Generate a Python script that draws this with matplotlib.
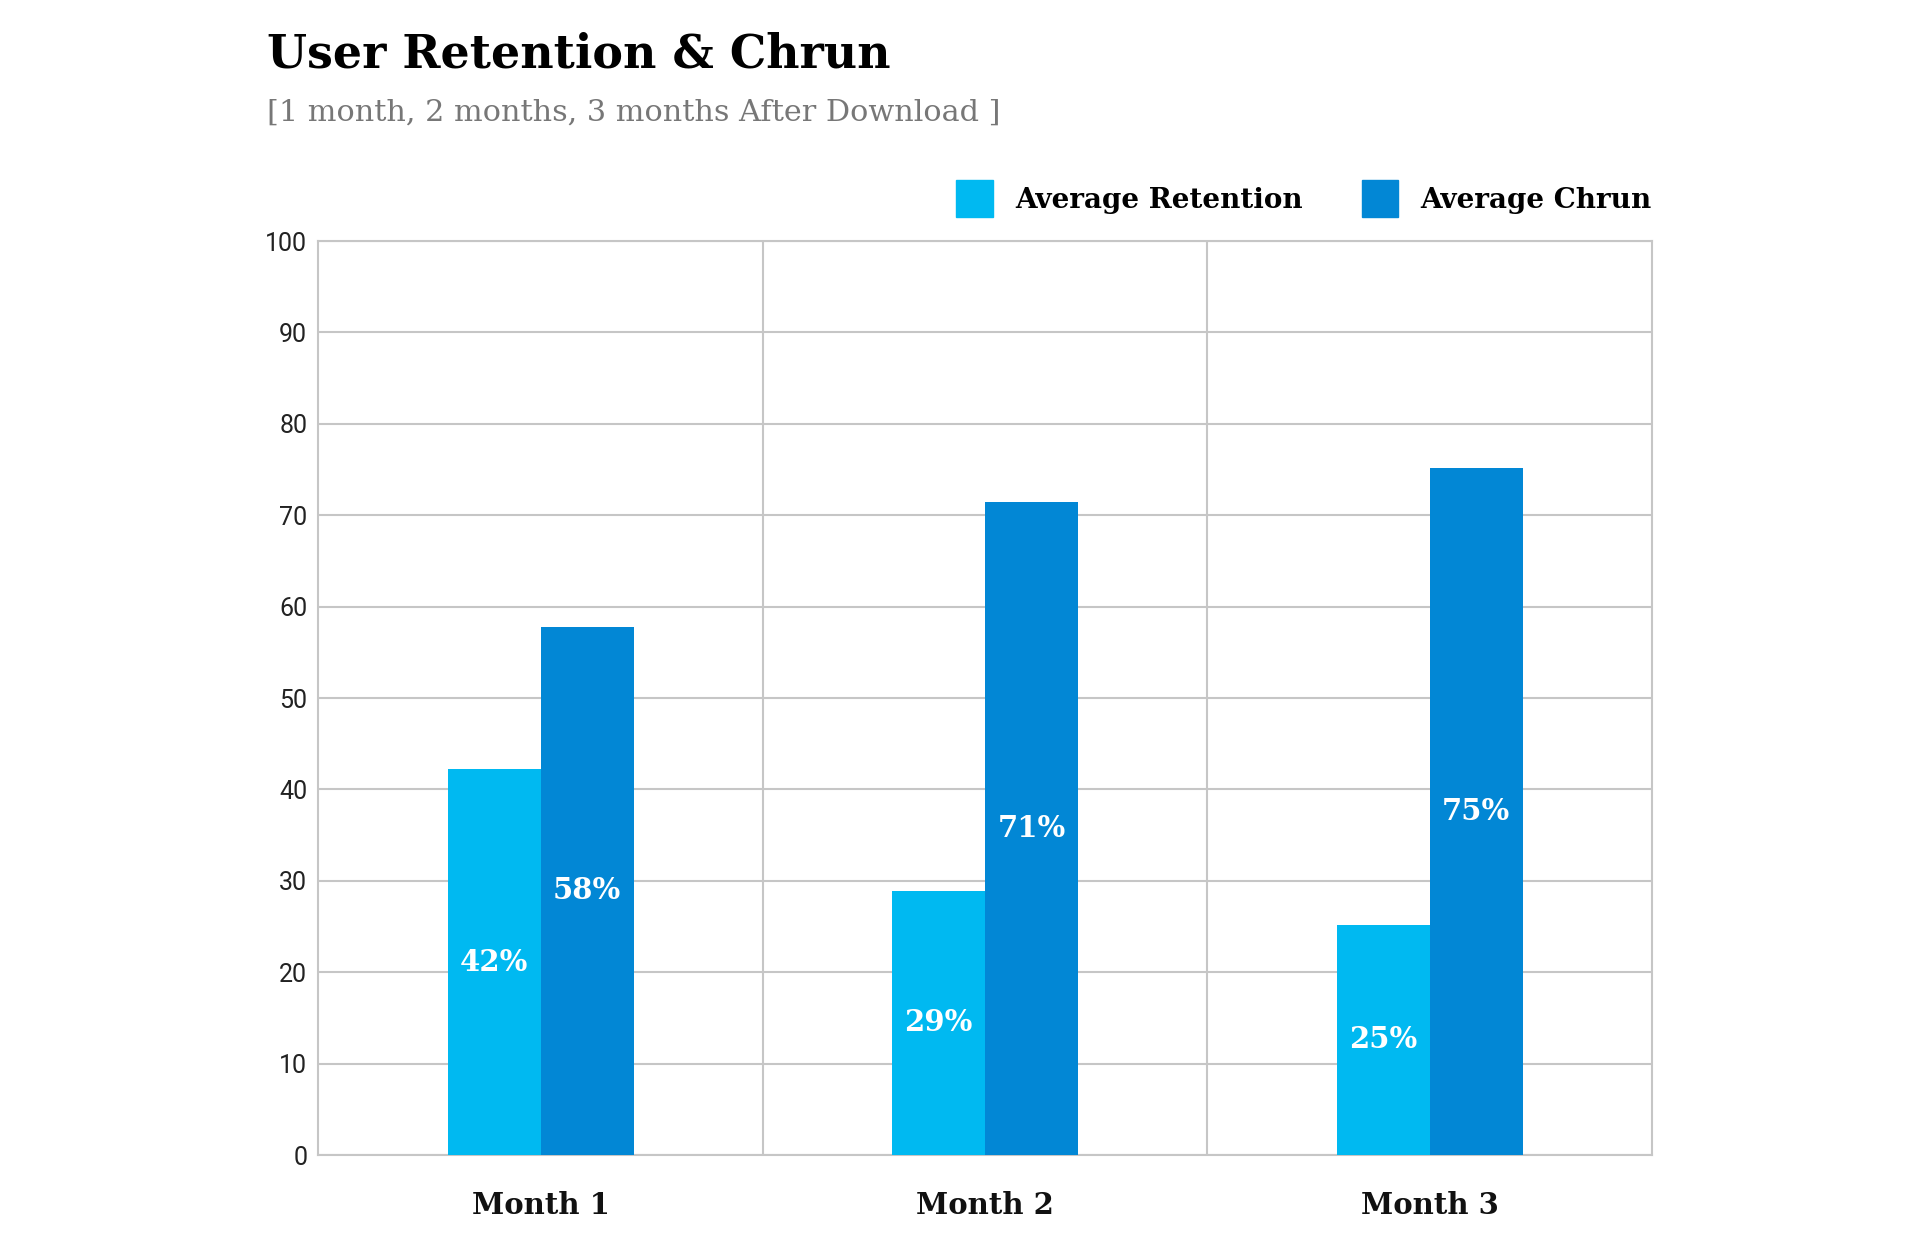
import matplotlib
matplotlib.use("Agg")
import matplotlib.pyplot as plt
import numpy as np
from matplotlib.patches import Patch

categories = ["Month 1", "Month 2", "Month 3"]
retention = [42.2, 28.9, 25.2]
churn = [57.8, 71.4, 75.2]
series_names = ["Average Retention", "Average Chrun"]
yticks = list(range(0, 101, 10))

c_ret = "#00B9F1"
c_churn = "#0287D5"
grid_c = "#c6c6c6"
slab = ["DejaVu Serif"]

fig = plt.figure(figsize=(19.2, 12.54), dpi=100)
ax = fig.add_axes([0.1658, 0.0789, 0.8604 - 0.1658, 0.8078 - 0.0789])

x = np.arange(len(categories))
w = 0.209
b1 = ax.bar(x - w / 2, retention, w, color=c_ret, zorder=3, linewidth=0)
b2 = ax.bar(x + w / 2, churn, w, color=c_churn, zorder=3, linewidth=0)

for bars, vals in ((b1, retention), (b2, churn)):
    for r, v in zip(bars, vals):
        ax.text(r.get_x() + r.get_width() / 2, v / 2, f"{v:.0f}%",
                ha="center", va="center", color="white", fontsize=21,
                fontweight="bold", family=slab, zorder=4)

ax.set_xlim(-0.5, len(categories) - 0.5)
ax.set_ylim(0, 100)
ax.set_yticks(yticks)
ax.set_yticklabels([str(t) for t in yticks], family="Roboto", fontsize=18, color="#222222")
ax.set_xticks(x)
ax.set_xticklabels(categories, family=slab, fontsize=21, fontweight="bold", color="#111111")
ax.tick_params(axis="both", length=0)
ax.tick_params(axis="y", pad=8)
ax.tick_params(axis="x", pad=26)

ax.yaxis.grid(True, color=grid_c, linewidth=1.5, zorder=0)
for xv in np.arange(0.5, len(categories) - 0.5, 1.0):
    ax.axvline(xv, color=grid_c, linewidth=1.5, zorder=0)
for s in ax.spines.values():
    s.set_color(grid_c)
    s.set_linewidth(1.5)

handles = [Patch(color=c_ret, label=series_names[0]), Patch(color=c_churn, label=series_names[1])]
leg = ax.legend(handles=handles, loc="lower right", bbox_to_anchor=(1.0, 1.026), ncol=2,
                frameon=False, handlelength=1.33, handleheight=1.67, handletextpad=0.8,
                columnspacing=2.1, borderaxespad=0.0, borderpad=0.0,
                prop=dict(family=slab, size=20, weight="bold"))

fig.text(0.139, 0.975, "User Retention & Chrun", family=slab, fontsize=33,
         fontweight="bold", color="black", va="top", ha="left")
fig.text(0.139, 0.921, "[1 month, 2 months, 3 months After Download ]", family=slab,
         fontsize=21.8, color="#777777", va="top", ha="left")

fig.savefig("out.png", dpi=100, facecolor="white")
